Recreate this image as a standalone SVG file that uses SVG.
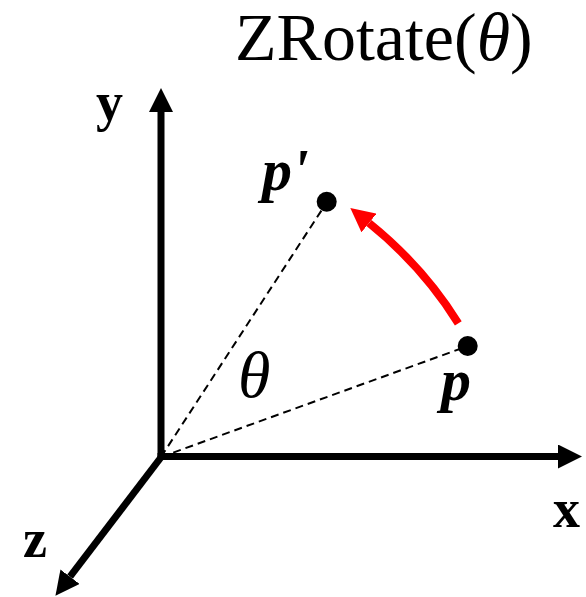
<svg xmlns="http://www.w3.org/2000/svg" width="586" height="597" viewBox="0 0 586 597">
<style>
.axis{stroke:#000;stroke-width:7;fill:none;stroke-linecap:butt}
.dash{stroke:#000;stroke-width:2;stroke-dasharray:8 5;fill:none}
.lbl{font-family:"Liberation Serif","Times New Roman",serif;font-weight:bold;font-size:54px;fill:#000}
.pl{font-family:"Liberation Serif","Times New Roman",serif;font-weight:bold;font-style:italic;font-size:60px;fill:#000}
.th{font-family:"Liberation Serif","Times New Roman",serif;font-style:italic;fill:#000}
.title{font-family:"Liberation Serif","Times New Roman",serif;font-size:68px;fill:#000}
.pt{fill:#000}
</style>
<defs>
<marker id="headK" viewBox="0 0 24 24" refX="0" refY="12" markerWidth="24" markerHeight="24" markerUnits="userSpaceOnUse" orient="auto"><path d="M0,0 L24,12 L0,24 Z" fill="#000"/></marker>
<marker id="headR" viewBox="0 0 24 24" refX="0" refY="12" markerWidth="24" markerHeight="24" markerUnits="userSpaceOnUse" orient="auto"><path d="M0,0 L24,12 L0,24 Z" fill="#f00"/></marker>
</defs>
<g id="title"><text class="title" x="235" y="60">ZRotate(<tspan class="th">θ</tspan>)</text></g>
<g id="connectors">
<line class="dash" x1="161" y1="457" x2="468" y2="346"/>
<line class="dash" x1="161" y1="457" x2="327" y2="202"/>
<line id="x-axis" class="axis" x1="157.5" y1="456.5" x2="558" y2="456.5" marker-end="url(#headK)"/>
<line id="y-axis" class="axis" x1="161" y1="460" x2="161" y2="112" marker-end="url(#headK)"/>
<line id="z-axis" class="axis" x1="162" y1="456" x2="70" y2="576.7" marker-end="url(#headK)"/>
<path id="rotation" d="M458.3,323.3 Q423,266.5 369,223" stroke="#f00" stroke-width="8" fill="none" marker-end="url(#headR)"/>
</g>
<g id="label-y"><text class="lbl" x="96" y="120">y</text></g>
<g id="label-x"><text class="lbl" x="553" y="527">x</text></g>
<g id="label-z"><text class="lbl" x="23" y="557">z</text></g>
<g id="node-p"><circle class="pt" cx="467.7" cy="346" r="10"/><text class="pl" x="441" y="400">p</text></g>
<g id="node-p-prime"><circle class="pt" cx="326.7" cy="201.7" r="10"/><text class="pl" x="262" y="190">p'</text></g>
<g id="label-theta"><text class="th" x="238" y="397" font-size="66">θ</text></g>
</svg>
